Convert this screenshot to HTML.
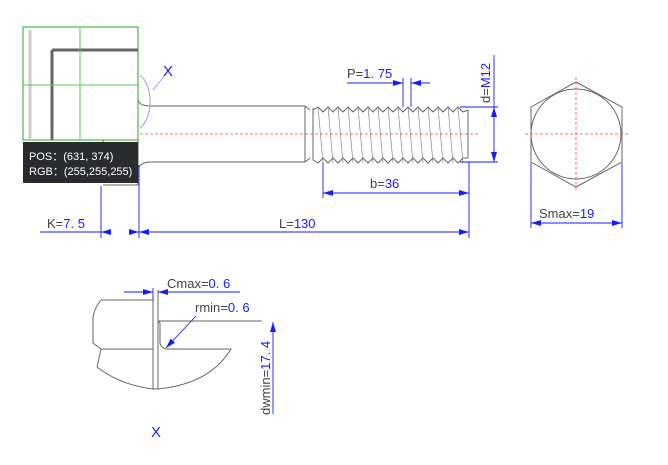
<!DOCTYPE html>
<html><head><meta charset="utf-8"><style>body{margin:0;background:#fff}svg{display:block}text{font-family:"Liberation Sans",sans-serif;font-size:13px;fill:#1a1aff}</style></head><body>
<svg width="668" height="465" viewBox="0 0 668 465" xmlns="http://www.w3.org/2000/svg">
<defs><marker id="a" markerWidth="10" markerHeight="6" refX="10" refY="3" orient="auto-start-reverse" markerUnits="userSpaceOnUse"><path d="M0,0 L10,3 L0,6z" fill="#1a1aff"/></marker></defs>
<g stroke="#666" fill="none" stroke-width="1">
<path d="M103,185 L138,185 L138,140 M103,183 L103,140"/>
<path d="M138,96 L138,100 Q140,106 150,106 L305,106 L310,110 M138,170 Q140,162 150,162 L305,162 L310,158 M305,106 L305,162"/>
<path d="M313,108 L313,160 M468,110 L468,158"/>
<path d="M313,110 L318,107 L323,112 L328,107 L333,112 L338,107 L343,112 L348,107 L353,112 L358,107 L363,112 L368,107 L373,112 L378,107 L383,112 L388,107 L393,112 L398,107 L403,112 L408,107 L413,112 L418,107 L423,112 L428,107 L433,112 L438,107 L443,112 L448,107 L453,112 L458,107 L463,112 L468,110"/>
<path d="M313,160 L318,163 L323,158 L328,163 L333,158 L338,163 L343,158 L348,163 L353,158 L358,163 L363,158 L368,163 L373,158 L378,163 L383,158 L388,163 L393,158 L398,163 L403,158 L408,163 L413,158 L418,163 L423,158 L428,163 L433,158 L438,163 L443,158 L448,163 L453,158 L458,163 L463,158 L468,158"/>
<path d="M318,107 L323,163 M328,107 L333,163 M338,107 L343,163 M348,107 L353,163 M358,107 L363,163 M368,107 L373,163 M378,107 L383,163 M388,107 L393,163 M398,107 L403,163 M408,107 L413,163 M418,107 L423,163 M428,107 L433,163 M438,107 L443,163 M448,107 L453,163 M458,107 L463,163" stroke="#888" stroke-width="0.7"/>
<path d="M576,82 L622,107 L622,162 L576,187 L531,162 L531,107 Z"/>
<circle cx="576" cy="134" r="45"/>
<path d="M101,300 L153,300 L153,389 M158,290 L158,389 M101,300 Q93,310 93,320 L93,343 L101,349 L97,367 M101,349 L153,349 M158,321 L262,321 M158,321 L160,323 L160,343 Q161,348 166,349 L231,349 Q210,384 158,389 L153,389 Q120,385 97,367"/>
</g>
<path d="M140,75 A17,29 0 0 1 140,128" stroke="#9999ff" fill="none"/>
<path d="M153,90 L165,75" stroke="#9999ff"/>
<g stroke="#ff4444" stroke-dasharray="3,2" stroke-width="0.8"><path d="M140,134 L480,134 M525,134 L630,134 M576,77 L576,192"/></g>
<rect x="23" y="27" width="115" height="113" fill="#fff" stroke="#22aa22"/>
<path d="M52,50 L138,50 M52,50 L52,140" stroke="#666" stroke-width="3" fill="none"/>
<path d="M30,30 L30,140" stroke="#ccc" stroke-width="3"/>
<path d="M80,27 L80,140 M23,85 L138,85" stroke="#55cc55"/>
<rect x="23" y="142" width="115" height="41" fill="#2a2b2e"/>
<text x="29" y="160" style="fill:#fff;font-size:11px">POS：(631, 374)</text>
<text x="29" y="175" style="fill:#fff;font-size:11px">RGB：(255,255,255)</text>
<g stroke="#1a1aff" fill="none" stroke-width="0.9">
<path d="M101,186 L101,238 M139,165 L139,238 M469,162 L469,238 M323,163 L323,198"/>
<path d="M40,232 L101,232"/><path d="M101,232 L111,232" marker-start="url(#a)"/><path d="M129,232 L139,232" marker-end="url(#a)"/><path d="M139,232 L469,232" marker-start="url(#a)" marker-end="url(#a)"/>
<path d="M323,193 L469,193" marker-start="url(#a)" marker-end="url(#a)"/>
<path d="M347,83 L403,83" marker-end="url(#a)"/><path d="M411,83 L430,83" marker-start="url(#a)"/><path d="M403,78 L403,107 M411,78 L411,107"/>
<path d="M494,55 L494,107" /><path d="M494,107 L494,162" marker-start="url(#a)" marker-end="url(#a)"/><path d="M460,107 L498,107 M460,162 L498,162"/>
<path d="M531,163 L531,228 M622,163 L622,228"/><path d="M531,223 L622,223" marker-start="url(#a)" marker-end="url(#a)"/>
<path d="M124,292 L153,292" marker-end="url(#a)"/><path d="M158,292 L240,292" marker-start="url(#a)"/><path d="M153,288 L153,300"/>
<path d="M196,316 L166,348" marker-end="url(#a)"/>
<path d="M273,414 L273,322" marker-end="url(#a)"/>
</g>
<text x="163" y="76" style="font-size:15px">X</text>
<text x="47" y="228"><tspan style="fill:#444">K=</tspan>7. 5</text>
<text x="279" y="228"><tspan style="fill:#444">L=</tspan>130</text>
<text x="370" y="188"><tspan style="fill:#444">b=</tspan>36</text>
<text x="347" y="78"><tspan style="fill:#444">P=</tspan>1. 75</text>
<text transform="translate(490,103) rotate(-90)"><tspan style="fill:#444">d=</tspan>M12</text>
<text x="539" y="218"><tspan style="fill:#444">Smax=</tspan>19</text>
<text x="167" y="288"><tspan style="fill:#444">Cmax=</tspan>0. 6</text>
<text x="195" y="312"><tspan style="fill:#444">rmin=</tspan>0. 6</text>
<text transform="translate(270,415) rotate(-90)"><tspan style="fill:#444">dwmin=</tspan>17. 4</text>
<text x="151" y="437" style="font-size:15px">X</text>
</svg>
</body></html>
